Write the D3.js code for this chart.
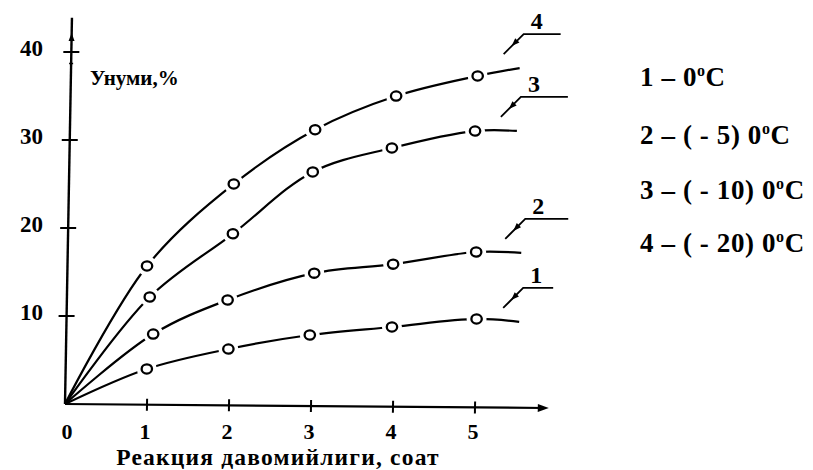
<!DOCTYPE html>
<html><head><meta charset="utf-8">
<script src="https://cdn.jsdelivr.net/npm/d3@7"></script>
<style>
body{margin:0;background:#fff}
text{font-family:"Liberation Serif","Times New Roman",serif;font-weight:bold;fill:#000}
</style>
</head><body>
<svg id="c" width="813" height="470"></svg>
<script>
// ---- data ----
const seriesNames = ["1", "2", "3", "4"];
const legendTemps = ["0", "( - 5) 0", "( - 10) 0", "( - 20) 0"];
const xTicks = [0, 1, 2, 3, 4, 5];
const yTicks = [10, 20, 30, 40];
const yTitle = "Унуми,%";
const xTitle = "Реакция давомийлиги, соат";
// first point = origin, middle points = measured (circles), last = end of drawn line
const curve1X = [0, 0.99, 1.98, 2.97, 3.97, 5.00, 5.52];
const curve1Y = [0, 4.06, 6.40, 8.07, 9.06, 10.05, 9.75];
const curve2X = [0, 1.06, 1.96, 3.01, 3.97, 4.98, 5.53];
const curve2Y = [0, 8.03, 11.97, 15.10, 16.20, 17.66, 17.60];
const curve3X = [0, 1.01, 2.01, 2.97, 3.93, 4.94, 5.45];
const curve3Y = [0, 12.24, 19.50, 26.60, 29.40, 31.40, 31.45];
const curve4X = [0, 0.97, 2.01, 2.99, 3.97, 4.96, 5.47];
const curve4Y = [0, 15.76, 25.16, 31.40, 35.30, 37.66, 38.60];

const curves = [[curve1X, curve1Y], [curve2X, curve2Y], [curve3X, curve3Y], [curve4X, curve4Y]]
  .map(([xs, ys]) => xs.map((x, i) => ({x, y: ys[i]})));

// ---- layout ----
const svg = d3.select("#c");
svg.append("rect").attr("width", 813).attr("height", 470).attr("fill", "#fff");
const ox = 65, oy = 404, skx = -0.018, sky = 0.0083; // hand-drawn axes are slightly tilted
const x = d3.scaleLinear().domain([0, 5]).range([0, 410]);
const y = d3.scaleLinear().domain([0, 40]).range([0, -352]);
const toScreen = (X, Y) => [ox + X + skx * Y, oy + sky * X + Y];

const g = svg.append("g").attr("transform", `matrix(1,${sky},${skx},1,${ox},${oy})`);
const stroke = "#000";

// axes
g.append("line").attr("x1", 0).attr("y1", 0).attr("x2", 0).attr("y2", y(43.9))
  .attr("stroke", stroke).attr("stroke-width", 2.4);
g.append("line").attr("x1", 0).attr("y1", 0).attr("x2", x(5.85)).attr("y2", 0)
  .attr("stroke", stroke).attr("stroke-width", 2.2);
g.append("path").attr("d", `M${x(5.9)},0 L${x(5.9) - 11},-4 L${x(5.9) - 11},4 Z`).attr("fill", stroke);
// small arrow mark on the y axis
g.append("path").attr("d", `M0,${y(41.6) - 5} L-3,${y(41.6) + 3} L3,${y(41.6) + 3} Z`).attr("fill", stroke);
g.append("line").attr("x1", -2).attr("x2", 2).attr("y1", y(38.7)).attr("y2", y(38.7)).attr("stroke", stroke).attr("stroke-width", 1.5);

g.selectAll(".yt").data(yTicks).join("line")
  .attr("x1", -8).attr("x2", 8).attr("y1", d => y(d)).attr("y2", d => y(d))
  .attr("stroke", stroke).attr("stroke-width", 2);
g.selectAll(".xt").data(xTicks.filter(d => d > 0)).join("line")
  .attr("x1", d => x(d)).attr("x2", d => x(d)).attr("y1", -6).attr("y2", 6)
  .attr("stroke", stroke).attr("stroke-width", 2);

// curves
const line = d3.line().x(d => x(d.x)).y(d => y(d.y)).curve(d3.curveCatmullRom.alpha(0.5));
curves.forEach(c => {
  g.append("path").attr("d", line(c)).attr("fill", "none")
    .attr("stroke", stroke).attr("stroke-width", 2.2);
});
curves.forEach(c => {
  const pts = c.slice(1, -1);
  g.selectAll(null).data(pts).join("circle")
    .attr("cx", d => x(d.x)).attr("cy", d => y(d.y)).attr("r", 10).attr("fill", "#fff");
  g.selectAll(null).data(pts).join("ellipse")
    .attr("cx", d => x(d.x)).attr("cy", d => y(d.y)).attr("rx", 5.2).attr("ry", 4.6)
    .attr("fill", "#fff").attr("stroke", stroke).attr("stroke-width", 2.3);
});

// tick labels
svg.selectAll(".xl").data(xTicks).join("text")
  .attr("x", d => ox + x(d) + (d === 0 ? 2 : -2)).attr("y", 439)
  .attr("text-anchor", "middle").attr("font-size", 22).text(d => d);
svg.selectAll(".yl").data(yTicks).join("text")
  .attr("x", 43).attr("y", d => oy + y(d) + 4)
  .attr("text-anchor", "end").attr("font-size", 23).text(d => d);

// axis titles
svg.append("text").attr("x", 90).attr("y", 85).attr("font-size", 21).text(yTitle);
svg.append("text").attr("x", 278).attr("y", 465).attr("text-anchor", "middle")
  .attr("font-size", 23.5).attr("letter-spacing", 1.2).text(xTitle);

// leader annotations pointing to each curve end
const leaderLen = [30, 43, 47, 37];
curves.forEach((c, i) => {
  const e = c[c.length - 1];
  const [ex, ey] = toScreen(x(e.x), y(e.y));
  const s = [ex - 16, ey - 14], k = [ex + 4, ey - 34];
  svg.append("path")
    .attr("d", `M${s[0]},${s[1]} L${k[0]},${k[1]} L${k[0] + leaderLen[i]},${k[1]}`)
    .attr("fill", "none").attr("stroke", stroke).attr("stroke-width", 1.8);
  const dx = k[0] - s[0], dy = k[1] - s[1], L = Math.hypot(dx, dy);
  const ux = dx / L, uy = dy / L;
  const tip = [s[0] + dx * 0.4, s[1] + dy * 0.4];
  const base = [tip[0] + ux * 8, tip[1] + uy * 8];
  svg.append("path")
    .attr("d", `M${tip[0]},${tip[1]} L${base[0] - uy * 3},${base[1] + ux * 3} L${base[0] + uy * 3},${base[1] - ux * 3} Z`)
    .attr("fill", stroke);
  svg.append("text").attr("x", k[0] + 13).attr("y", k[1] - 5)
    .attr("text-anchor", "middle").attr("font-size", 24).text(seriesNames[i]);
});

// legend
const legY = [86, 144, 199, 252];
seriesNames.forEach((n, i) => {
  const t = svg.append("text").attr("x", 640).attr("y", legY[i]).attr("font-size", 27)
    .attr("letter-spacing", 0.6);
  t.append("tspan").text(`${n} – ${legendTemps[i]}`);
  t.append("tspan").attr("font-size", 16).attr("dy", -10).text("o");
  t.append("tspan").attr("dy", 10).text("C");
});
</script>
</body></html>
